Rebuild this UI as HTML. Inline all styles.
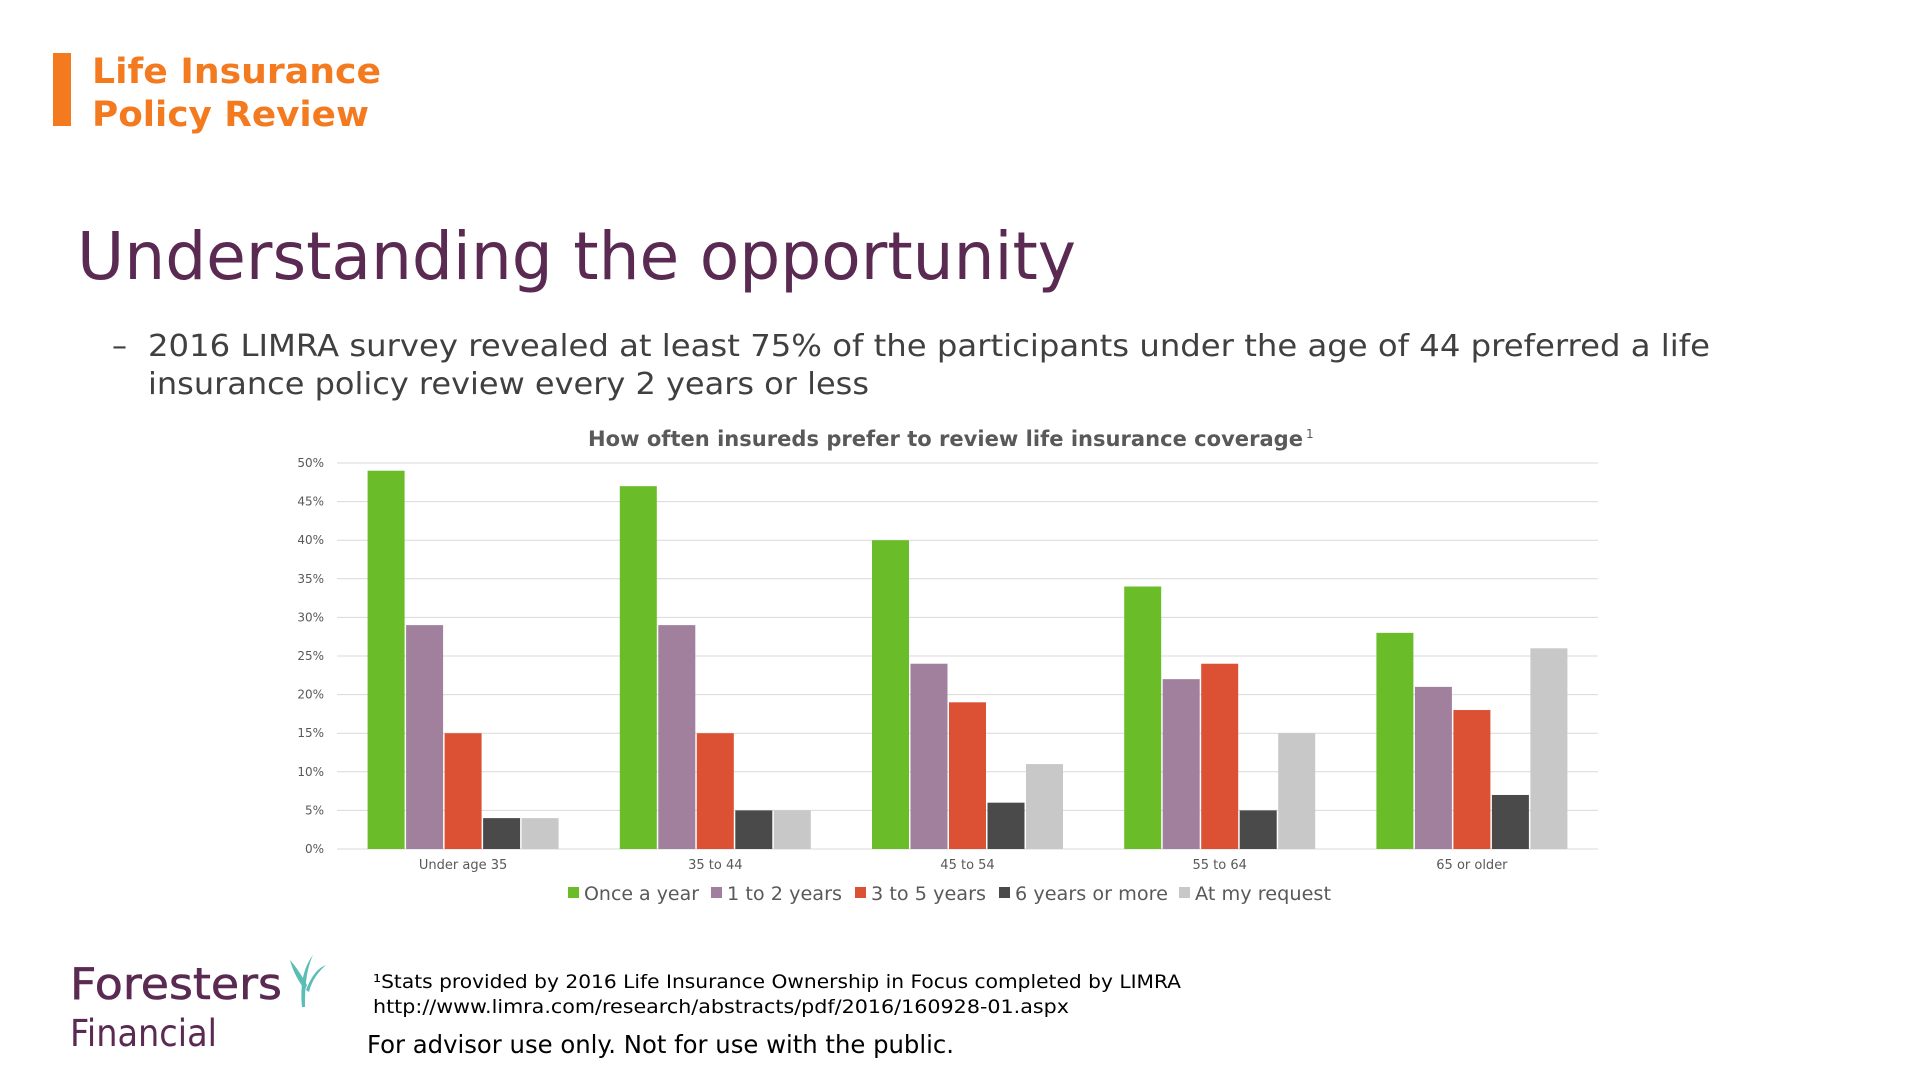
<!DOCTYPE html>
<html><head><meta charset="utf-8"><style>
html,body{margin:0;padding:0;background:#fff;}
svg{display:block;}
text{font-family:"DejaVu Sans","Liberation Sans",sans-serif;}
</style></head><body>
<svg id="page" width="1920" height="1080" viewBox="0 0 1920 1080" xmlns="http://www.w3.org/2000/svg">
<rect x="53" y="53" width="18" height="73" fill="#f47a20"/>
<text x="92" y="83" font-size="35" font-weight="bold" fill="#f47a20" textLength="289" lengthAdjust="spacingAndGlyphs">Life Insurance</text>
<text x="92" y="126" font-size="35" font-weight="bold" fill="#f47a20" textLength="277" lengthAdjust="spacingAndGlyphs">Policy Review</text>
<text x="77" y="279" font-size="66" fill="#5a2a52" textLength="999" lengthAdjust="spacingAndGlyphs">Understanding the opportunity</text>
<text x="112" y="356" font-size="30" fill="#404040">–</text>
<text x="148" y="356" font-size="30" fill="#404040" textLength="1562" lengthAdjust="spacingAndGlyphs">2016 LIMRA survey revealed at least 75% of the participants under the age of 44 preferred a life</text>
<text x="148" y="394" font-size="30" fill="#404040" textLength="721" lengthAdjust="spacingAndGlyphs">insurance policy review every 2 years or less</text>
<text x="588" y="446" font-size="21" font-weight="bold" fill="#595959" textLength="715" lengthAdjust="spacingAndGlyphs">How often insureds prefer to review life insurance coverage</text>
<text x="1306" y="438" font-size="12" fill="#595959">1</text>
<g id="chart"></g>
<g id="legend"></g>
<text x="70" y="999" font-size="44" fill="#5a2a52" stroke="#5a2a52" stroke-width="0.6" textLength="212" lengthAdjust="spacingAndGlyphs">Foresters</text>
<text x="70" y="1046" font-size="37" fill="#5a2a52" textLength="147" lengthAdjust="spacingAndGlyphs">Financial</text>
<g fill="#5cbcb6">
<path d="M302 1007 C300 985 303 968 313 955 C306 970 305 988 305 1007 Z"/>
<path d="M305 990 C296 978 292 968 290 960 C297 968 302 976 307 985 Z"/>
<path d="M306 990 C312 975 318 968 326 965 C318 972 312 980 309 992 Z"/>
</g>
<text x="373" y="988" font-size="19" fill="#000" textLength="808" lengthAdjust="spacingAndGlyphs">¹Stats provided by 2016 Life Insurance Ownership in Focus completed by LIMRA</text>
<text x="373" y="1013" font-size="19" fill="#000" textLength="696" lengthAdjust="spacingAndGlyphs">http://www.limra.com/research/abstracts/pdf/2016/160928-01.aspx</text>
<text x="367" y="1053" font-size="25" fill="#000" textLength="587" lengthAdjust="spacingAndGlyphs">For advisor use only. Not for use with the public.</text>
</svg>
<script>
const categories = ["Under age 35","35 to 44","45 to 54","55 to 64","65 or older"];
const seriesNames = ["Once a year","1 to 2 years","3 to 5 years","6 years or more","At my request"];
const onceAYear = [49,47,40,34,28];
const oneToTwo = [29,29,24,22,21];
const threeToFive = [15,15,19,24,18];
const sixOrMore = [4,5,6,5,7];
const atRequest = [4,5,11,15,26];
const yTicks = [0,5,10,15,20,25,30,35,40,45,50];

const series = [onceAYear, oneToTwo, threeToFive, sixOrMore, atRequest];
const colors = ["#6abd28","#a0809c","#dc5034","#4a4a4a","#c8c8c8"];
const NS = "http://www.w3.org/2000/svg";
const plotL = 337, plotR = 1598, yTop = 463, yBot = 849, yMax = 50;
const yScale = v => yBot - (v / yMax) * (yBot - yTop);
const band = (plotR - plotL) / categories.length;
const barW = 38.5;
const xBar = (ci, si) => plotL + band * ci + band / 2 - (barW * series.length) / 2 + si * barW;
const chart = document.getElementById('chart');
function mk(tag, attrs, parent){const e=document.createElementNS(NS,tag);for(const k in attrs)e.setAttribute(k,attrs[k]);parent.appendChild(e);return e;}

yTicks.forEach(t => {
  const y = yScale(t);
  const gl = mk('line',{x1:plotL,x2:plotR,y1:y,y2:y,stroke:'#d9d9d9','stroke-width':1},chart);
  
  
  const lb = mk('text',{x:324,y:y+4,'font-size':12,fill:'#595959','text-anchor':'end'},chart);
  lb.textContent = t + '%';
  
  
});
categories.forEach((c, ci) => {
  series.forEach((s, si) => {
    const y = yScale(s[ci]);
    const r = mk('rect',{x:xBar(ci,si)+0.75,y:y,width:barW-1.5,height:yBot-y,fill:colors[si]},chart);
    
    
  });
  const lb = mk('text',{x:plotL+band*ci+band/2,y:869,'font-size':13,fill:'#595959','text-anchor':'middle'},chart);
  lb.textContent = c;
  
  
});
const legend = document.getElementById('legend');
const legX = [568,711,855,999,1179];
const legW = [115,115,115,153,136];
seriesNames.forEach((n, i) => {
  const sq = mk('rect',{x:legX[i],y:887,width:11,height:11,fill:colors[i]},legend);
  
  
  const t = mk('text',{x:legX[i]+16,y:900,'font-size':19,fill:'#595959',textLength:legW[i],lengthAdjust:'spacingAndGlyphs'},legend);
  t.textContent = n;
  
  
});
</script>
</body></html>
